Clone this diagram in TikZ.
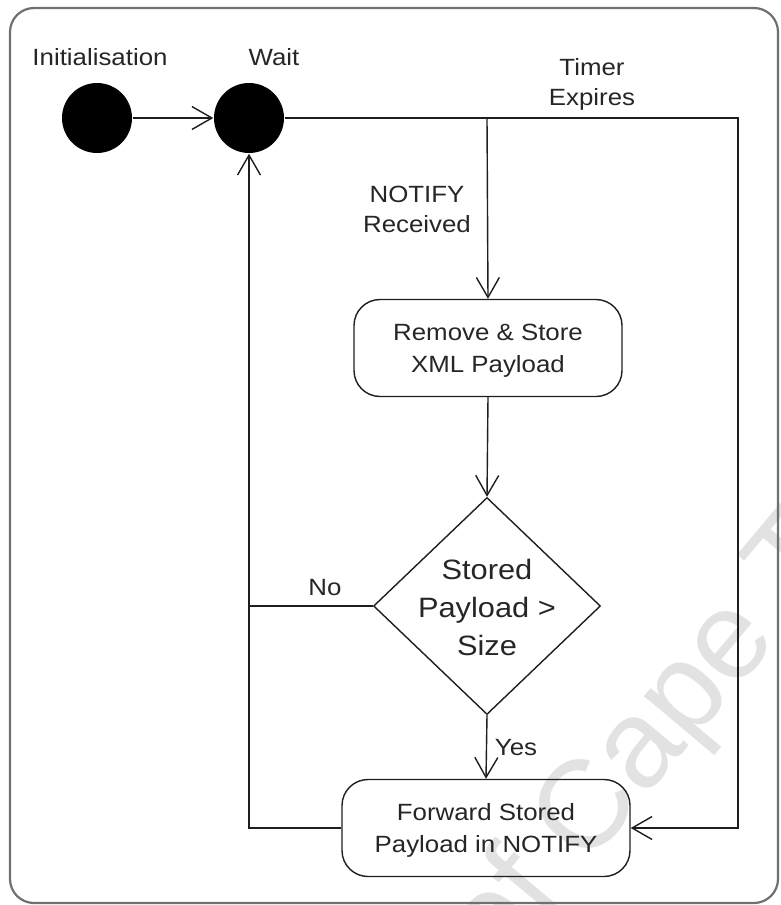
\documentclass[tikz,border=0pt]{standalone}
\usepackage{fontspec}
\setmainfont{Liberation Sans}[FakeStretch=1.1]
\newfontfamily\markfont{Liberation Sans}
\usetikzlibrary{arrows.meta,shapes.geometric}
\definecolor{ink}{HTML}{1E1E1E}
\definecolor{txt}{HTML}{262626}
\definecolor{framegray}{HTML}{707070}
\definecolor{markgray}{HTML}{E2E2E2}

\begin{document}
\begin{tikzpicture}[x=1pt,y=-1pt,
  line width=1.4pt,
  state/.style={circle, fill=black, draw=none, minimum size=70pt, inner sep=0pt},
  action/.style={draw=ink, rounded corners=26pt, minimum height=97pt, text=txt,
    align=center, font=\fontsize{23.5}{32}\selectfont, inner sep=0pt},
  decision/.style={diamond, draw=ink, minimum width=227pt, minimum height=217pt, inner sep=0pt},
  dectext/.style={text=txt, align=center, font=\fontsize{28}{38}\selectfont, inner sep=0pt},
  lbl/.style={text=txt, align=center, font=\fontsize{23.5}{30}\selectfont, inner sep=0pt},
  flow/.style={draw=ink, -{Straight Barb[length=20pt,width=23pt,line width=1.4pt]}},
  wire/.style={draw=ink},
]
\useasboundingbox (0,0) rectangle (781,905);

% faint watermark behind everything
\begin{scope}
  \clip (0,0) rectangle (781,905);
  \node[text=markgray, font=\markfont\fontsize{125}{125}\selectfont, rotate=50,
        anchor=base west, inner sep=0pt] (mark) at (497,975) {of Cape Town};
\end{scope}

% outer frame
\draw[framegray, line width=2.2pt, rounded corners=24pt] (10,8) rectangle (778,903);

% states
\node[state] (init) at (97,118) {};
\node[state] (wait) at (249,118) {};
\node[lbl] (initlbl) at (100,57) {Initialisation};
\node[lbl] (waitlbl) at (274,57) {Wait};

% activities
\node[action, minimum width=268pt] (store) at (488,348) {};
\node[action, draw=none] (storetxt) at (488,351) {Remove \& Store\\XML Payload};
\node[decision] (dec) at (487,606) {};
\node[dectext] (dectxt) at (487,607) {Stored\\Payload >\\Size};
\node[action, minimum width=288pt] (fwd) at (486,828) {};
\node[action, draw=none] (fwdtxt) at (486,830) {Forward Stored\\Payload in NOTIFY};

% routing points
\coordinate (split) at (487,118);
\coordinate (tr) at (738,118);
\coordinate (br) at (738,828);
\coordinate (bl) at (249,828);
\coordinate (ml) at (249,606);

% transitions
\draw[flow] (init) -- (wait);
\draw[wire] (wait.east) -- (split);
\draw[flow] (split) -- (store.north);
\draw[flow] (split) -- (tr) -- (br) -- (fwd.east);
\draw[flow] (store.south) -- (dec.north);
\draw[flow] (dec.south) -- (fwd.north);
\draw[wire] (dec.west) -- (ml);
\draw[flow] (fwd.west) -- (bl) -- (wait.south);

% transition labels
\node[lbl] (notify) at (417,209) {NOTIFY\\Received};
\node[lbl] (timer) at (592,84) {Timer\\Expires};
\node[lbl] (no) at (325,588) {No};
\node[lbl] (yes) at (516,748) {Yes};
\end{tikzpicture}
\end{document}
